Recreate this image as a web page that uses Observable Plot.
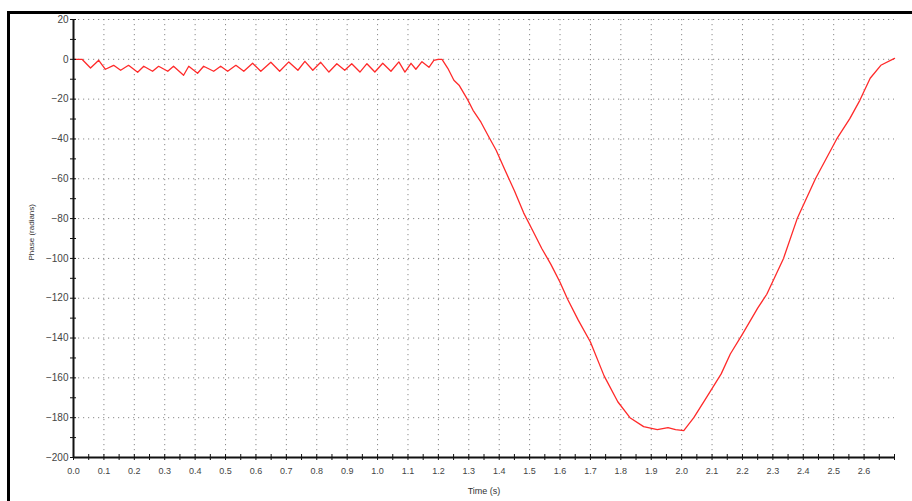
<!DOCTYPE html>
<html>
<head>
<meta charset="utf-8">
<script src="https://cdn.jsdelivr.net/npm/d3@7"></script>
<script src="https://cdn.jsdelivr.net/npm/@observablehq/plot@0.6"></script>
<style>
  html, body { margin: 0; padding: 0; background: #fff; }
  #wrap { position: relative; width: 912px; height: 501px; overflow: hidden; }
  #frame { position: absolute; left: 7px; top: 11px; right: -10px; bottom: -10px;
           border-left: 3px solid #000; border-top: 3px solid #000; pointer-events: none; }
</style>
</head>
<body>
<div id="wrap"><div id="frame"></div></div>
<script>
// Time (s) and phase (radians)
const times = [
  0, 0.028, 0.056, 0.083, 0.105, 0.132, 0.155, 0.181, 0.211, 0.231, 0.260, 0.280,
  0.310, 0.329, 0.362, 0.379, 0.408, 0.428, 0.461, 0.484, 0.507, 0.534, 0.560,
  0.589, 0.616, 0.649, 0.678, 0.708, 0.738, 0.761, 0.787, 0.813, 0.840, 0.866,
  0.892, 0.915, 0.942, 0.965, 0.991, 1.017, 1.044, 1.070, 1.090, 1.110, 1.126,
  1.146, 1.169, 1.185, 1.199, 1.212,
  1.231, 1.251, 1.268, 1.297, 1.314, 1.340, 1.366, 1.390, 1.42, 1.45, 1.48, 1.51,
  1.54, 1.57, 1.60, 1.625, 1.66, 1.70, 1.745, 1.79, 1.83, 1.875, 1.92, 1.955,
  1.98, 2.007, 2.04, 2.085, 2.13, 2.16, 2.20, 2.25, 2.28, 2.335, 2.38, 2.44,
  2.51, 2.553, 2.586, 2.62, 2.655, 2.70
];
const phases = [
  0, 0, -4.4, -0.5, -5, -3, -5.5, -3, -6.5, -3.5, -6, -3.5,
  -6, -3.5, -8, -3.5, -7, -3.5, -6, -3.5, -6, -3, -6,
  -2, -6, -1.5, -6, -1.3, -5.5, -1, -5.5, -1.5, -6.4, -2.2,
  -5.5, -2.2, -6.4, -2.2, -6.4, -2, -6, -1.3, -6.4, -2, -5,
  -1.2, -4, -0.5, 0, 0,
  -4.5, -10.5, -13, -20.5, -25.6, -31.6, -39, -45.7, -56, -66, -77, -86,
  -95, -103, -112, -120.5, -131, -142, -159, -172, -180, -184.5, -186, -185,
  -186, -186.5, -180, -169, -158, -148, -138, -125, -118, -100, -80, -60,
  -40, -29.8, -20.6, -9.5, -3, 0.5
];

// Axis ticks
const xTicks = [0, 0.1, 0.2, 0.3, 0.4, 0.5, 0.6, 0.7, 0.8, 0.9, 1.0, 1.1, 1.2, 1.3,
  1.4, 1.5, 1.6, 1.7, 1.8, 1.9, 2.0, 2.1, 2.2, 2.3, 2.4, 2.5, 2.6];
const xMinorTicks = d3.range(0, 55).map(i => i * 0.05);
const yTicks = [20, 0, -20, -40, -60, -80, -100, -120, -140, -160, -180, -200];
const yMinorTicks = d3.range(-200, 21, 10);
const xTitle = "Time (s)";
const yTitle = "Phase (radians)";

const data = times.map((t, i) => ({t, p: phases[i]}));

const chart = Plot.plot({
  width: 912,
  height: 501,
  marginLeft: 73,
  marginRight: 18,
  marginTop: 19,
  marginBottom: 44,
  style: {background: "transparent", fontFamily: "'Liberation Sans', Arial, sans-serif"},
  x: {domain: [0, 2.7]},
  y: {domain: [-200, 20]},
  marks: [
    Plot.gridX(xTicks, {stroke: "#8a8a8a", strokeOpacity: 1, strokeDasharray: "1.2 3.8"}),
    Plot.gridY(yTicks, {stroke: "#8a8a8a", strokeOpacity: 1, strokeDasharray: "1.2 3.8"}),
    Plot.line(data, {x: "t", y: "p", stroke: "#ff2a2a", strokeWidth: 1.3}),
    Plot.ruleX([0], {stroke: "#111", strokeWidth: 2}),
    Plot.ruleY([-200], {stroke: "#111", strokeWidth: 2}),
    Plot.axisY(yMinorTicks, {tickSize: 6, dx: 3, tickFormat: () => "", label: null, stroke: "#111"}),
    Plot.axisX(xMinorTicks, {tickSize: 6, dy: -3, tickFormat: () => "", label: null, stroke: "#111"}),
    Plot.axisY(yTicks, {tickSize: 0, tickPadding: 5, fontSize: 10, fill: "#444", label: null}),
    Plot.axisX(xTicks, {tickSize: 0, tickPadding: 10, fontSize: 9, fill: "#444", label: null,
      tickFormat: d => d.toFixed(1)}),
    Plot.text([xTitle], {frameAnchor: "bottom", dy: 36, fontSize: 9, fill: "#333"}),
    Plot.text([yTitle], {frameAnchor: "left", rotate: -90, dx: -42, dy: 22, fontSize: 8, fill: "#333"})
  ]
});
document.getElementById("wrap").prepend(chart);
</script>
</body>
</html>
